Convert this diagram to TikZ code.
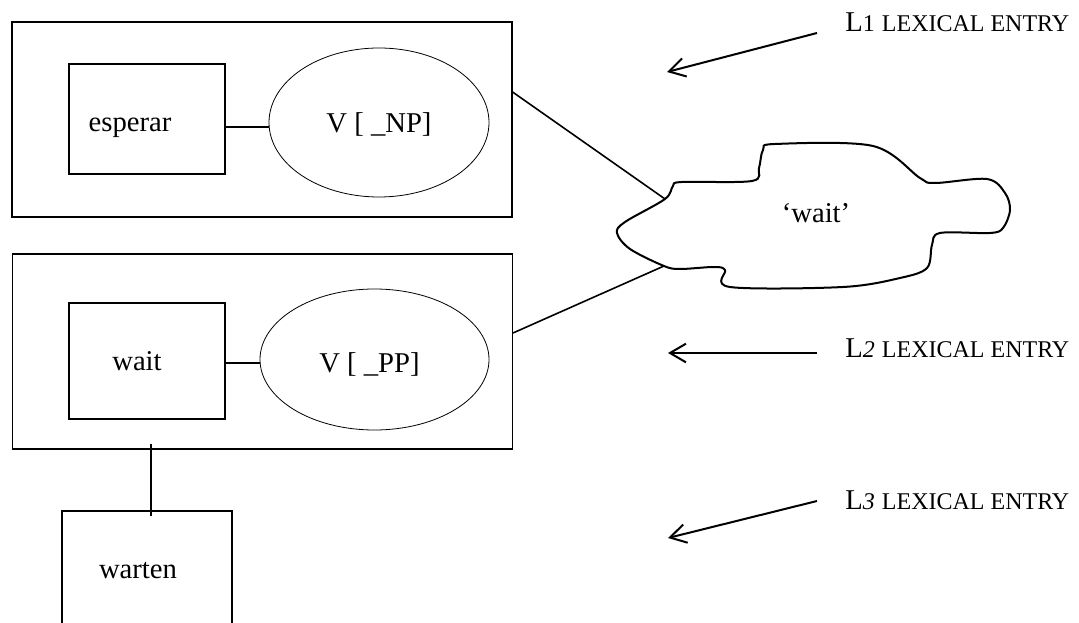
\documentclass[tikz,border=0pt]{standalone}
\usepackage{fontspec}
\setmainfont{Liberation Serif}
\usetikzlibrary{shapes.geometric, arrows.meta}
\tikzstyle{frame} = [rectangle, minimum width=375pt, minimum height=146.25pt, draw=black, line width=0.9pt]
\tikzstyle{word} = [rectangle, minimum width=117pt, draw=black, line width=0.9pt, font=\fontsize{21.5}{24}\selectfont]
\tikzstyle{cat} = [ellipse, draw=black, line width=0.6pt, inner sep=0pt, font=\fontsize{21.5}{24}\selectfont]
\tikzstyle{gloss} = [font=\fontsize{21.5}{24}\selectfont]
\tikzstyle{entry} = [anchor=base west, inner sep=0pt, font=\fontsize{21.5}{24}\selectfont]
\tikzstyle{link} = [line width=1.2pt]
\tikzstyle{cloudline} = [line width=1.5pt]
\tikzstyle{pointer} = [line width=1.5pt, -{Straight Barb[length=12pt,width=14pt]}]
\newcommand{\lexsc}{\fontsize{18}{20}\selectfont}
\newcommand{\drop}[2]{\raisebox{-#1}[0pt][0pt]{#2}}

\begin{document}
\begin{tikzpicture}[x=0.75pt,y=-0.75pt]
\clip (0,0) rectangle (1079,623);
% L1 entry
\node (entryA) [frame] at (262,119.5) {};
\node (esperar) [word, minimum height=82.5pt] at (147,119) {\drop{9.2pt}{esperar}\hspace{25.5pt}\null};
\node (np) [cat, minimum width=165pt, minimum height=111.75pt] at (379,122.5) {\drop{7.5pt}{V [ \_NP]}};
% L2 entry
\node (entryB) [frame] at (262.5,351.5) {};
\node (wait) [word, minimum height=87pt] at (147,361) {\drop{7.5pt}{wait}\hspace{15pt}\null};
\node (pp) [cat, minimum width=171.75pt, minimum height=105.75pt] at (374.5,359.5) {\drop{10pt}{V [ \_PP]}\hspace{7.5pt}\null};
% L3 entry
\node (warten) [word, minimum width=127.5pt, minimum height=88.5pt] at (147,570) {\drop{6.3pt}{warten}\hspace{13.5pt}\null};
% concept
\draw [cloudline] plot [smooth cycle, tension=0.55] coordinates {
  (665,199) (673,186) (682,182) (752,181) (759,168) (763,150) (775,144)
  (873,146) (920,178) (935,183) (987,179) (1005,193) (1010,210) (1003,228)
  (990,233) (940,233) (932,245) (927,268) (900,278) (843,287) (730,287)
  (725,270) (714,267) (680,269) (664,266) (630,249) (617,233) (625,222)};
\coordinate (jointA) at (665,199);
\coordinate (jointB) at (664,266);
\node (meaning) [gloss] at (816,213) {`wait'};
% links
\draw [link] ([yshift=-6pt]esperar.east) -- ([yshift=-6pt]esperar.east -| np.west);
\draw [link] ([yshift=-1.5pt]wait.east) -- ([yshift=-1.5pt]wait.east -| pp.west);
\draw [link] ([yshift=20.6pt]entryA.east) -- (jointA);
\draw [link] ([yshift=13.9pt]entryB.east) -- (jointB);
\draw [link] ([xshift=3pt,yshift=-4.5pt]warten.north) -- ++(0,-72);
% labels
\node (labA) [entry] at (845,32) {L{\lexsc 1} {\lexsc LEXICAL ENTRY}};
\node (labB) [entry] at (845,358) {L{\lexsc\itshape 2} {\lexsc LEXICAL ENTRY}};
\node (labC) [entry] at (845,510) {L{\lexsc\itshape 3} {\lexsc LEXICAL ENTRY}};
\coordinate (tipA) at (667,72);
\coordinate (tipB) at (668,353);
\coordinate (tipC) at (668,538);
\draw [pointer] ([xshift=-21pt,yshift=-0.75pt]labA.base west) -- (tipA);
\draw [pointer] ([xshift=-21pt,yshift=3.75pt]labB.base west) -- (tipB);
\draw [pointer] ([xshift=-21pt,yshift=6.75pt]labC.base west) -- (tipC);
\end{tikzpicture}
\end{document}
